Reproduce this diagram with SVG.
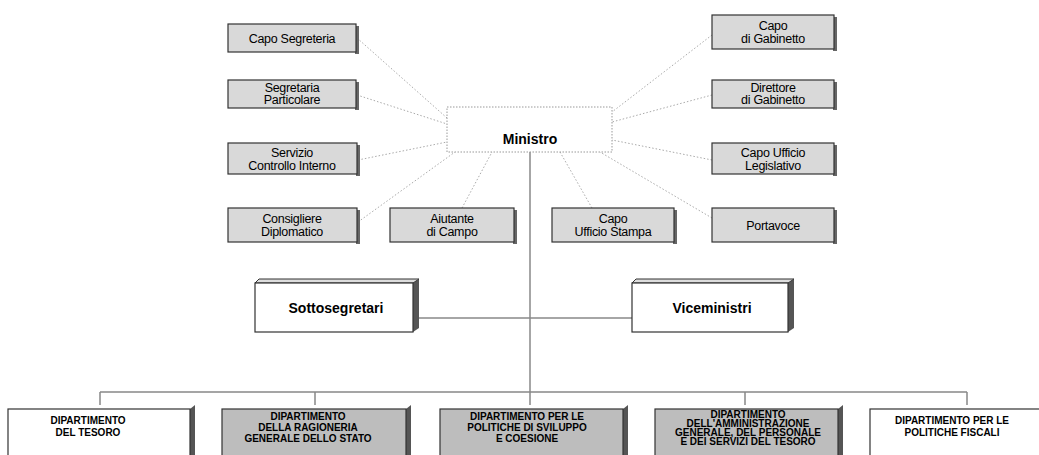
<svg xmlns="http://www.w3.org/2000/svg" width="1039" height="455" viewBox="0 0 1039 455">
<style>
.bg{fill:#ffffff}
.st rect.f{fill:#d9d9d9;stroke:#333;stroke-width:1.2}
.st rect.s{fill:#666}
.st text{font-family:"Liberation Sans",Arial,sans-serif;font-size:12.5px;fill:#000;text-anchor:middle;letter-spacing:-0.3px}
.dot{stroke:#aaa;stroke-width:1;stroke-dasharray:1.5 2;fill:none}
.line{stroke:#888;stroke-width:1.5;fill:none}
.big rect.f{fill:#fff;stroke:#333;stroke-width:1.2}
.big path.s{fill:#555}
.big text{font-family:"Liberation Sans",Arial,sans-serif;font-size:14px;font-weight:bold;fill:#000;text-anchor:middle}
.dep rect.f{stroke:#333;stroke-width:1.2}
.dep path.s{fill:#555}
.dep text{font-family:"Liberation Sans",Arial,sans-serif;font-size:10px;font-weight:bold;fill:#000;text-anchor:middle}
.white{fill:#fff}
.gray{fill:#bdbdbd}
</style>
<rect class="bg" x="0" y="0" width="1039" height="455"/>
<g id="connectors">
<path class="dot" d="M357,38 L447,118"/>
<path class="dot" d="M357,95 L447,124"/>
<path class="dot" d="M358,160 L447,142"/>
<path class="dot" d="M358,222 L455,152"/>
<path class="dot" d="M462,208 L492,152"/>
<path class="dot" d="M592,208 L560,152"/>
<path class="dot" d="M712,218 L600,152"/>
<path class="dot" d="M712,160 L612,140"/>
<path class="dot" d="M712,95 L612,122"/>
<path class="dot" d="M712,35 L612,112"/>
<path class="line" d="M530,152 V392"/>
<path class="line" d="M418,318 H632"/>
<path class="line" d="M100,392 H967 M100,392 V405 M315,392 V405 M530,392 V405 M745,392 V405 M967,392 V405"/>
</g>
<g id="ministro">
<rect x="447" y="107" width="165" height="45" fill="#fff" stroke="#999" stroke-width="1" stroke-dasharray="1.5 1.5"/>
<text x="530" y="144" font-family="Liberation Sans,Arial,sans-serif" font-size="14" font-weight="bold" text-anchor="middle" fill="#000">Ministro</text>
</g>
<g id="capo-segreteria" class="st"><rect class="s" x="355" y="26" width="4" height="28"/><rect class="f" x="228" y="24" width="128" height="28"/><text x="292" y="43">Capo Segreteria</text></g>
<g id="segretaria-particolare" class="st"><rect class="s" x="355" y="82" width="4" height="28"/><rect class="f" x="228" y="80" width="128" height="28"/><text x="292" y="92">Segretaria</text><text x="292" y="104">Particolare</text></g>
<g id="servizio-controllo" class="st"><rect class="s" x="356" y="145" width="4" height="31"/><rect class="f" x="228" y="143" width="129" height="31"/><text x="292" y="157">Servizio</text><text x="292" y="170">Controllo Interno</text></g>
<g id="consigliere" class="st"><rect class="s" x="356" y="210" width="4" height="34"/><rect class="f" x="228" y="208" width="129" height="34"/><text x="292" y="223">Consigliere</text><text x="292" y="236">Diplomatico</text></g>
<g id="aiutante" class="st"><rect class="s" x="513" y="210" width="4" height="34"/><rect class="f" x="390" y="208" width="124" height="34"/><text x="452" y="223">Aiutante</text><text x="452" y="236">di Campo</text></g>
<g id="capo-stampa" class="st"><rect class="s" x="673" y="210" width="4" height="34"/><rect class="f" x="552" y="208" width="122" height="34"/><text x="613" y="223">Capo</text><text x="613" y="236">Ufficio Stampa</text></g>
<g id="portavoce" class="st"><rect class="s" x="833" y="210" width="4" height="34"/><rect class="f" x="712" y="208" width="122" height="34"/><text x="773" y="230">Portavoce</text></g>
<g id="capo-gabinetto" class="st"><rect class="s" x="833" y="17" width="4" height="34"/><rect class="f" x="712" y="15" width="122" height="34"/><text x="773" y="30">Capo</text><text x="773" y="43">di Gabinetto</text></g>
<g id="direttore-gabinetto" class="st"><rect class="s" x="833" y="82" width="4" height="28"/><rect class="f" x="712" y="80" width="122" height="28"/><text x="773" y="92">Direttore</text><text x="773" y="104">di Gabinetto</text></g>
<g id="capo-legislativo" class="st"><rect class="s" x="833" y="145" width="4" height="31"/><rect class="f" x="712" y="143" width="122" height="31"/><text x="773" y="157">Capo Ufficio</text><text x="773" y="170">Legislativo</text></g>
<g id="sottosegretari" class="big"><path class="s" d="M413,283 L419,279 L419,328 L413,332 Z"/><path d="M255,283 L259,279 L419,279 L413,283 Z" fill="#ddd" stroke="#333" stroke-width="1"/><rect class="f" x="255" y="283" width="158" height="49"/><text x="336" y="313">Sottosegretari</text></g>
<g id="viceministri" class="big"><path class="s" d="M788,283 L794,279 L794,328 L788,332 Z"/><path d="M632,283 L636,279 L794,279 L788,283 Z" fill="#ddd" stroke="#333" stroke-width="1"/><rect class="f" x="632" y="283" width="156" height="49"/><text x="712" y="313">Viceministri</text></g>
<g id="dip-tesoro" class="dep"><path class="s" d="M190,409 L195,405 L195,460 L190,460 Z"/><rect class="f white" x="8" y="409" width="182" height="60"/><text x="88" y="424">DIPARTIMENTO</text><text x="88" y="436">DEL TESORO</text></g>
<g id="dip-ragioneria" class="dep"><path class="s" d="M406,409 L411,405 L411,460 L406,460 Z"/><rect class="f gray" x="222" y="409" width="184" height="60"/><text x="308" y="420">DIPARTIMENTO</text><text x="308" y="431">DELLA RAGIONERIA</text><text x="308" y="442">GENERALE DELLO STATO</text></g>
<g id="dip-sviluppo" class="dep"><path class="s" d="M623,409 L628,405 L628,460 L623,460 Z"/><rect class="f gray" x="440" y="409" width="183" height="60"/><text x="527" y="420">DIPARTIMENTO PER LE</text><text x="527" y="431">POLITICHE DI SVILUPPO</text><text x="527" y="442">E COESIONE</text></g>
<g id="dip-amministrazione" class="dep"><path class="s" d="M838,409 L843,405 L843,460 L838,460 Z"/><rect class="f gray" x="655" y="409" width="183" height="60"/><text x="748" y="418">DIPARTIMENTO</text><text x="748" y="427">DELL'AMMINISTRAZIONE</text><text x="748" y="436">GENERALE, DEL PERSONALE</text><text x="748" y="445">E DEI SERVIZI DEL TESORO</text></g>
<g id="dip-fiscali" class="dep"><rect class="f white" x="870" y="409" width="180" height="60"/><text x="952" y="424">DIPARTIMENTO PER LE</text><text x="952" y="436">POLITICHE FISCALI</text></g>
</svg>
